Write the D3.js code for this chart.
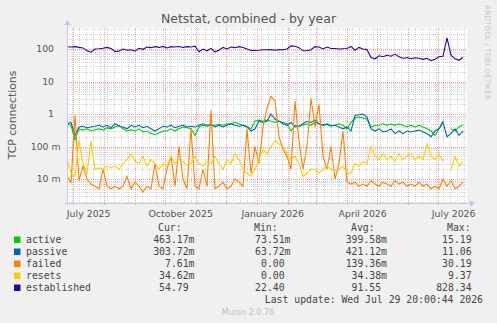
<!DOCTYPE html>
<html>
<head>
<meta charset="utf-8">
<script src="https://cdn.jsdelivr.net/npm/d3@7"></script>
<style>
body { margin: 0; background: #f0f0f0; }
svg { display: block; }
text { font-family: "DejaVu Sans", sans-serif; }
.mono { font-family: "DejaVu Sans Mono", monospace; font-size: 9.8px; fill: #444; }
</style>
</head>
<body>
<script>
// samples every 4 days from the start of the 400 day window
var stepDays = 4;

var active = [0.5,0.45,0.16,0.35,0.32,0.35,0.3,0.33,0.35,0.32,0.38,0.35,0.4,0.45,0.35,0.3,0.33,0.3,0.35,0.28,
  0.3,0.25,0.23,0.26,0.3,0.3,0.35,0.3,0.35,0.4,0.38,0.35,0.22,0.4,0.45,0.42,0.45,0.45,0.48,0.45,
  0.5,0.5,0.55,0.5,0.45,0.42,0.35,0.6,0.65,0.6,0.65,0.6,0.55,0.6,0.55,0.5,0.3,0.45,0.42,0.45,
  0.5,0.45,0.55,0.5,0.45,0.5,0.45,0.45,0.5,0.45,0.35,0.55,0.75,0.8,0.75,0.7,0.4,0.45,0.45,0.5,
  0.45,0.5,0.45,0.5,0.45,0.4,0.45,0.4,0.45,0.4,0.35,0.3,0.22,0.35,0.6,null,0.35,0.3,0.4,0.46];

var passive = [0.5,0.55,0.22,0.4,0.42,0.38,0.4,0.42,0.45,0.4,0.45,0.38,0.5,0.42,0.4,0.35,0.45,0.4,0.45,0.38,
  0.42,0.35,0.3,0.35,0.42,0.4,0.45,0.38,0.42,0.45,0.4,0.42,0.4,0.45,0.5,0.45,0.48,0.4,0.45,0.4,
  0.45,0.5,0.45,0.42,0.45,0.4,0.3,0.35,0.6,0.55,0.6,1.0,0.7,0.6,0.5,0.45,0.55,0.4,0.42,0.5,
  0.6,0.55,0.65,0.5,0.45,0.48,0.42,0.45,0.4,0.35,0.4,0.3,0.9,0.95,1.0,0.8,0.35,0.3,0.35,0.28,
  0.3,0.35,0.25,0.3,0.25,0.3,0.28,0.3,0.32,0.28,0.25,0.2,0.3,0.35,0.55,0.2,0.25,0.35,0.22,0.3];

var failed = [0.012,0.008,0.9,0.009,0.025,0.01,0.007,0.006,0.005,0.02,0.006,0.005,0.006,0.005,0.006,0.012,0.005,0.008,0.006,0.004,
  0.006,0.005,0.03,0.006,0.005,0.02,0.05,0.006,0.1,0.01,0.005,0.35,0.006,0.005,0.02,0.006,1.3,0.005,0.006,0.008,
  0.005,0.006,0.01,0.008,0.006,0.35,0.015,0.1,0.03,0.4,1.5,3.5,2.5,0.2,0.08,0.05,0.02,2.5,0.15,0.02,
  0.1,3.0,0.4,2.0,0.05,0.02,0.1,0.01,0.03,0.3,0.008,0.007,0.008,0.006,0.007,0.006,0.009,0.007,0.006,0.008,
  0.007,0.006,0.009,0.007,0.008,0.006,0.007,0.006,0.008,0.006,0.007,0.005,0.006,0.005,0.01,0.006,0.009,0.005,0.006,0.008];

var resets = [0.04,0.015,0.012,0.15,0.03,0.015,0.15,0.02,0.022,0.02,0.025,0.022,0.025,0.02,0.03,0.04,0.06,0.035,0.03,0.05,
  0.025,0.04,0.03,0.02,0.03,0.025,0.05,0.03,0.04,0.035,0.025,0.03,0.05,0.03,0.025,0.035,0.03,0.05,0.03,0.02,
  0.04,0.03,0.06,0.04,0.02,0.015,0.012,0.02,0.04,0.08,0.06,0.1,0.15,0.12,0.1,0.06,0.04,0.05,0.03,0.012,
  0.015,0.02,0.02,0.015,0.02,0.025,0.02,0.018,0.02,0.025,0.015,0.015,0.03,0.025,0.035,0.03,0.1,0.05,0.04,0.06,
  0.04,0.05,0.035,0.06,0.04,0.05,0.06,0.04,0.05,0.04,0.12,0.05,0.04,0.06,0.035,null,0.02,0.05,0.025,0.035];

var established = [118,115,118,112,108,88,80,100,102,105,112,104,84,86,100,92,95,86,105,98,
  115,110,118,112,120,108,118,115,120,112,118,115,122,82,100,88,105,82,92,112,
  100,115,110,118,112,100,90,90,92,95,95,96,92,96,95,100,125,122,110,88,
  88,95,118,115,100,115,104,104,100,102,104,120,92,112,100,96,55,50,62,58,
  64,60,70,58,52,55,50,54,52,48,52,44,48,58,60,220,65,50,45,56];

var names = ["active", "passive", "failed", "resets", "established"];
var colors = ["#00cc00", "#0066b3", "#ff8000", "#ffcc00", "#330099"];
var curVals = ["463.17m", "303.72m", "7.61m", "34.62m", "54.79\u00a0"];
var minVals = ["73.51m", "63.72m", "0.00\u00a0", "0.00\u00a0", "22.40\u00a0"];
var avgVals = ["399.58m", "421.12m", "139.36m", "34.38m", "91.55\u00a0"];
var maxVals = ["15.19\u00a0", "11.06\u00a0", "30.19\u00a0", "9.37\u00a0", "828.34\u00a0"];
var yTicks = [0.01, 0.1, 1, 10, 100];

var w = 497, h = 323;
var pLeft = 67, pRight = 467, pTop = 28, pBottom = 203;

var endTime = new Date(Date.UTC(2026, 6, 29, 20, 0, 44));
var startTime = new Date(endTime.getTime() - 400 * 864e5);

var x = d3.scaleUtc().domain([startTime, endTime]).range([pLeft, pRight]);
var y = d3.scaleLog().domain([0.00183, 443]).range([pBottom, pTop]);

var svg = d3.select("body").append("svg").attr("width", w).attr("height", h);

svg.append("rect").attr("width", w).attr("height", h).attr("fill", "#f0f0f0");
svg.append("rect").attr("x", pLeft).attr("y", pTop).attr("width", pRight - pLeft).attr("height", pBottom - pTop).attr("fill", "#fff");

var px = function(v) { return Math.round(v) + 0.5; };

// minor grid
var minorY = [];
for (var e = -3; e <= 2; e++) {
  for (var k = 2; k <= 9; k++) {
    var v = k * Math.pow(10, e);
    if (v > y.domain()[0] && v < y.domain()[1]) minorY.push(v);
  }
}
var weeks = d3.utcMonday.range(startTime, endTime);
var months = d3.utcMonth.range(startTime, endTime);

var grid = svg.append("g").attr("shape-rendering", "crispEdges").attr("stroke-dasharray", "1,1").attr("fill", "none");
grid.selectAll(".my").data(minorY).enter().append("line")
  .attr("x1", pLeft).attr("x2", pRight)
  .attr("y1", function(d) { return px(y(d)); }).attr("y2", function(d) { return px(y(d)); })
  .attr("stroke", "#d4d4d4");
grid.selectAll(".mx").data(weeks).enter().append("line")
  .attr("y1", pTop).attr("y2", pBottom)
  .attr("x1", function(d) { return px(x(d)); }).attr("x2", function(d) { return px(x(d)); })
  .attr("stroke", "#d4d4d4");
grid.selectAll(".My").data(yTicks).enter().append("line")
  .attr("x1", pLeft).attr("x2", pRight)
  .attr("y1", function(d) { return px(y(d)); }).attr("y2", function(d) { return px(y(d)); })
  .attr("stroke", "#eba0a0");
grid.selectAll(".Mx").data(months).enter().append("line")
  .attr("y1", pTop).attr("y2", pBottom + 2)
  .attr("x1", function(d) { return px(x(d)); }).attr("x2", function(d) { return px(x(d)); })
  .attr("stroke", "#eba0a0");

// series
var allSeries = [active, passive, failed, resets, established];
var line = d3.line()
  .defined(function(d) { return d != null && d > 0; })
  .x(function(d, i) { return x(new Date(startTime.getTime() + i * stepDays * 864e5)); })
  .y(function(d) { return y(d); });

svg.append("defs").append("clipPath").attr("id", "clip")
  .append("rect").attr("x", pLeft).attr("y", pTop).attr("width", pRight - pLeft).attr("height", pBottom - pTop);

var lines = svg.append("g").attr("clip-path", "url(#clip)");
allSeries.forEach(function(s, i) {
  lines.append("path").datum(s)
    .attr("d", line)
    .attr("fill", "none")
    .attr("stroke", colors[i])
    .attr("stroke-width", 1.1);
});

// axes lines with arrows
var axisColor = "#c8c8ee";
svg.append("line").attr("x1", pLeft - 2).attr("x2", pRight + 4).attr("y1", pBottom + 0.5).attr("y2", pBottom + 0.5)
  .attr("stroke", axisColor);
svg.append("line").attr("x1", pLeft + 0.5).attr("x2", pLeft + 0.5).attr("y1", pBottom + 2).attr("y2", pTop - 4)
  .attr("stroke", axisColor);
svg.append("path").attr("d", "M" + (pRight + 3) + "," + (pBottom - 3) + "L" + (pRight + 8) + "," + (pBottom + 0.5) + "L" + (pRight + 3) + "," + (pBottom + 4) + "Z")
  .attr("fill", axisColor);
svg.append("path").attr("d", "M" + (pLeft - 3) + "," + (pTop - 3) + "L" + (pLeft + 0.5) + "," + (pTop - 8) + "L" + (pLeft + 4) + "," + (pTop - 3) + "Z")
  .attr("fill", axisColor);

// y labels
var yFmt = function(d) { return d >= 1 ? String(d) : String(Math.round(d * 1000)) + " m"; };
svg.append("g").selectAll("text").data(yTicks).enter().append("text")
  .attr("x", function(d) { return d >= 1 ? 54 : 60.5; })
  .attr("y", function(d) { return y(d) + 3.3; })
  .attr("text-anchor", "end")
  .attr("font-size", "9.3px")
  .attr("fill", "#555")
  .text(yFmt);

// x labels, centred mid-month every 3 months
var labelMonths = d3.utcMonth.range(startTime, endTime).filter(function(d) { return d.getUTCMonth() % 3 === 0; });
var xAxis = d3.axisBottom(x)
  .tickValues(labelMonths.map(function(d) { return d3.utcDay.offset(d, 15); }))
  .tickFormat(function(d) { return d3.utcFormat("%B %Y")(d3.utcMonth.floor(d)); })
  .tickSize(0).tickPadding(0);
var gx = svg.append("g").attr("transform", "translate(0," + pBottom + ")").call(xAxis);
gx.select(".domain").remove();
gx.selectAll("text").attr("dy", null).attr("y", 13.5)
  .attr("font-family", "DejaVu Sans").attr("font-size", "9.4px").attr("fill", "#555");

// titles
svg.append("text").attr("x", 248.5).attr("y", 23).attr("text-anchor", "middle")
  .attr("font-size", "12.5px").attr("fill", "#555").text("Netstat, combined - by year");
svg.append("text").attr("transform", "translate(15.5,115) rotate(-90)").attr("text-anchor", "middle")
  .attr("font-size", "10.8px").attr("fill", "#555").text("TCP connections");
svg.append("text").attr("transform", "translate(485,5) rotate(90)").attr("text-anchor", "start")
  .attr("font-size", "7.4px").attr("fill", "#c8c8c8").text("RRDTOOL / TOBI OETIKER");

// legend
var heads = [["Cur:", 158], ["Min:", 254], ["Avg:", 351], ["Max:", 447]];
heads.forEach(function(hd) {
  svg.append("text").attr("class", "mono").attr("x", hd[1]).attr("y", 231).text(hd[0]);
});
var cols = [[curVals, 194.5], [minVals, 290.5], [avgVals, 387], [maxVals, 477.5]];
names.forEach(function(n, i) {
  var yy = 243 + i * 12;
  svg.append("rect").attr("x", 14).attr("y", yy - 6.5).attr("width", 6.5).attr("height", 6.5).attr("fill", colors[i]);
  svg.append("text").attr("class", "mono").attr("x", 26).attr("y", yy).text(n);
  cols.forEach(function(c) {
    svg.append("text").attr("class", "mono").attr("x", c[1]).attr("y", yy).attr("text-anchor", "end").text(c[0][i]);
  });
});
svg.append("text").attr("class", "mono").attr("x", 483).attr("y", 303).attr("text-anchor", "end")
  .text("Last update: Wed Jul 29 20:00:44 2026");
svg.append("text").attr("x", 248).attr("y", 314.5).attr("text-anchor", "middle")
  .attr("font-size", "8px").attr("fill", "#c0c0c0").text("Munin 2.0.76");
</script>
</body>
</html>
